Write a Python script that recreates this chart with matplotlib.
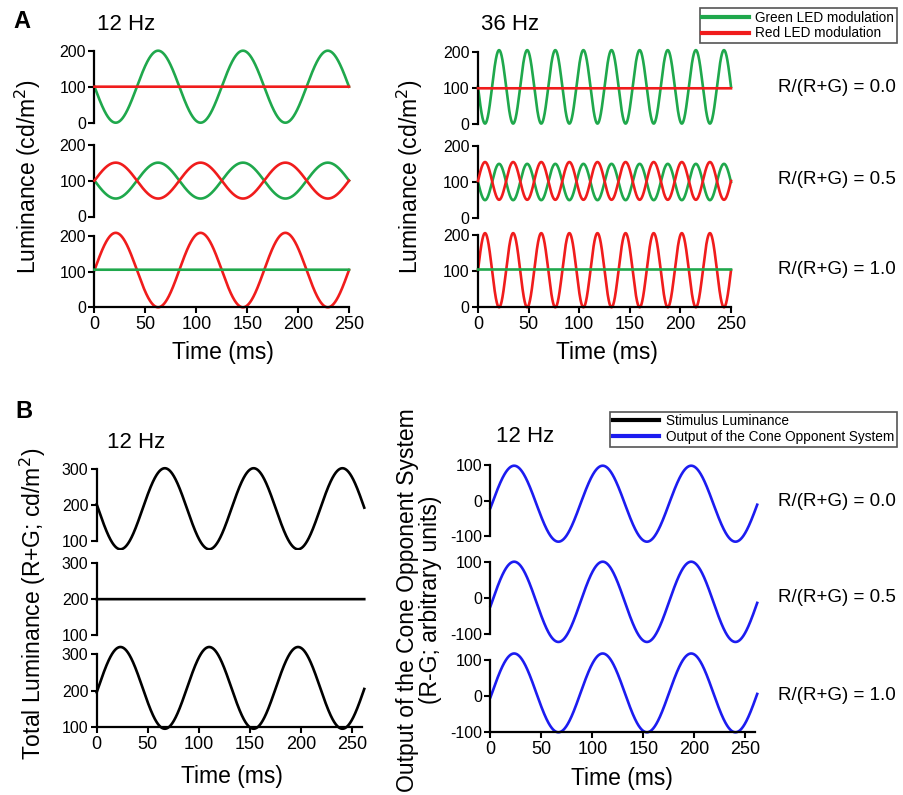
import numpy as np
import matplotlib.pyplot as plt
from matplotlib.lines import Line2D

plt.rcParams['font.family'] = ['Liberation Sans', 'DejaVu Sans']
plt.rcParams['axes.unicode_minus'] = False

# ---- values (sinusoidal modulation parameters) ----
ratio_labels = ['R/(R+G) = 0.0', 'R/(R+G) = 0.5', 'R/(R+G) = 1.0']
time_ticks = [0, 50, 100, 150, 200, 250]

# Panel A: LED modulation, y = mean + amp * sin(2*pi*f*t)
a_freqs = [12, 36]
a_green_mean = [[100, 100, 105], [104, 100, 105]]
a_green_amp = [[-100, -50, 0], [-102, -50, 0]]
a_red_mean = [[100, 100, 104], [100, 103, 103]]
a_red_amp = [[0, 50, 104], [0, 52, 103]]
a_yticks = [0, 100, 200]
a_tmax = 250

# Panel B: total luminance and cone-opponent output
b_freq = 11.5
b_t0 = 1.5
b_tmax = 262
total_mean = [190, 200, 208]
total_amp = [-113, 0, 112]
opp_mean = [-9, -11, 9]
opp_amp = [107, 111, 109]
b_lum_yticks = [100, 200, 300]
b_opp_yticks = [-100, 0, 100]

GREEN = '#1fa84c'
RED = '#f01c1c'
BLUE = '#1c1cf0'

W, H = 904, 795
fig = plt.figure(figsize=(W / 100, H / 100), dpi=100)


def place(px0, px250, py_hi, py_lo, yref, xlim, ylim):
    # px0/px250: pixel x of t=0 and t=250; py_hi/py_lo: pixel y of yref[1]/yref[0]
    sx = (px250 - px0) / 250.0
    left = px0 + xlim[0] * sx
    right = px0 + xlim[1] * sx
    sy = (py_lo - py_hi) / float(yref[1] - yref[0])
    top = py_hi - (ylim[1] - yref[1]) * sy
    bot = py_lo + (yref[0] - ylim[0]) * sy
    ax = fig.add_axes([left / W, 1 - bot / H, (right - left) / W, (bot - top) / H])
    ax.set_xlim(xlim)
    ax.set_ylim(ylim)
    ax.patch.set_alpha(0)
    for s in ['top', 'right']:
        ax.spines[s].set_visible(False)
    ax.spines['left'].set_bounds(yref[0], yref[1])
    ax.spines['left'].set_linewidth(1.6)
    ax.spines['bottom'].set_linewidth(1.6)
    ax.spines['bottom'].set_position(('data', yref[0]))
    ax.spines['left'].set_position(('data', 0))
    ax.tick_params(direction='out', length=4, width=1.5, labelsize=11.5, pad=2)
    return ax


def finish_x(ax, show, xmax):
    if show:
        ax.spines['bottom'].set_bounds(0, xmax)
        ax.set_xticks(time_ticks)
        ax.tick_params(axis='x', labelsize=13, pad=2)
    else:
        ax.spines['bottom'].set_visible(False)
        ax.set_xticks([])


# ---- Panel A ----
a_x = [(94.5, 349), (478, 731)]
a_y = [[(50.7, 122.7), (144.7, 216.5), (235.7, 307.3)],
       [(52.3, 124.3), (145.7, 218.3), (235.3, 307.3)]]
t_a = np.linspace(0, a_tmax, 3000)
for c in range(2):
    f = a_freqs[c] / 1000.0
    s = np.sin(2 * np.pi * f * t_a)
    for r in range(3):
        ax = place(a_x[c][0], a_x[c][1], a_y[c][r][0], a_y[c][r][1],
                   (0, 200), (-3, 253), (-6, 214))
        ax.plot(t_a, a_green_mean[c][r] + a_green_amp[c][r] * s, color=GREEN, lw=1.9,
                zorder=2 if r < 2 else 3)
        ax.plot(t_a, a_red_mean[c][r] + a_red_amp[c][r] * s, color=RED, lw=1.9,
                zorder=3 if r < 2 else 2)
        ax.set_yticks(a_yticks)
        finish_x(ax, r == 2, 250)

# ---- Panel B ----
t_b = np.linspace(0, b_tmax, 3000)
sb = np.sin(2 * np.pi * b_freq / 1000.0 * (t_b - b_t0))
bl_y = [(469.3, 541), (563.3, 635), (654.3, 727.3)]
br_y = [(465, 536), (561.7, 634), (660, 732.3)]
for r in range(3):
    ax = place(96.7, 352, bl_y[r][0], bl_y[r][1], (100, 300), (-3, 266), (74, 326))
    ax.plot(t_b, total_mean[r] + total_amp[r] * sb, color='black', lw=1.9)
    ax.set_yticks(b_lum_yticks)
    finish_x(ax, r == 2, 260)

    ax = place(490.5, 745, br_y[r][0], br_y[r][1], (-100, 100), (-3, 266), (-128, 126))
    ax.plot(t_b, opp_mean[r] + opp_amp[r] * sb, color=BLUE, lw=1.9)
    ax.set_yticks(b_opp_yticks)
    finish_x(ax, r == 2, 260)

# ---- texts ----
def ftext(x, y, s, **kw):
    fig.text(x / W, 1 - y / H, s, **kw)

ftext(22, 22, 'A', fontsize=17, fontweight='bold', ha='center', va='center')
ftext(24, 412, 'B', fontsize=17, fontweight='bold', ha='center', va='center')
ftext(126, 25, '12 Hz', fontsize=16, ha='center', va='center')
ftext(510, 24, '36 Hz', fontsize=16, ha='center', va='center')
ftext(136, 442, '12 Hz', fontsize=16, ha='center', va='center')
ftext(525, 437, '12 Hz', fontsize=16, ha='center', va='center')

ftext(28, 177, 'Luminance (cd/m$^2$)', fontsize=16.5, rotation=90, ha='center', va='center')
ftext(410, 177, 'Luminance (cd/m$^2$)', fontsize=16.5, rotation=90, ha='center', va='center')
ftext(33, 604, 'Total Luminance (R+G; cd/m$^2$)', fontsize=16.5, rotation=90,
      ha='center', va='center')
ftext(419, 600, 'Output of the Cone Opponent System\n(R-G; arbitrary units)', fontsize=16.5,
      rotation=90, ha='center', va='center', multialignment='center', linespacing=1.05)

ftext(223, 352, 'Time (ms)', fontsize=16.5, ha='center', va='center')
ftext(607, 352, 'Time (ms)', fontsize=16.5, ha='center', va='center')
ftext(232, 777, 'Time (ms)', fontsize=16.5, ha='center', va='center')
ftext(622, 778, 'Time (ms)', fontsize=16.5, ha='center', va='center')

for lab, y in zip(ratio_labels, [88, 180, 270]):
    ftext(778, y, lab, fontsize=13.5, ha='left', va='center')
for lab, y in zip(ratio_labels, [502, 597, 695]):
    ftext(778, y, lab, fontsize=13.5, ha='left', va='center')

# ---- legends ----
def box_legend(handles, labels, x1, y0):
    leg = fig.legend(handles, labels, loc='upper right', bbox_to_anchor=(x1 / W, 1 - y0 / H),
                     frameon=True, fancybox=False, edgecolor='#555555', framealpha=1,
                     prop={'size': 9.8}, handlelength=3.4, borderpad=0.2,
                     labelspacing=0.12, handletextpad=0.5, borderaxespad=0)
    leg.get_frame().set_linewidth(1.2)

box_legend([Line2D([], [], color=GREEN, lw=3), Line2D([], [], color=RED, lw=3)],
           ['Green LED modulation', 'Red LED modulation'], 897, 8)
box_legend([Line2D([], [], color='black', lw=3), Line2D([], [], color=BLUE, lw=3)],
           ['Stimulus Luminance', 'Output of the Cone Opponent System'], 897, 411.5)

fig.savefig('out.png', dpi=100)
